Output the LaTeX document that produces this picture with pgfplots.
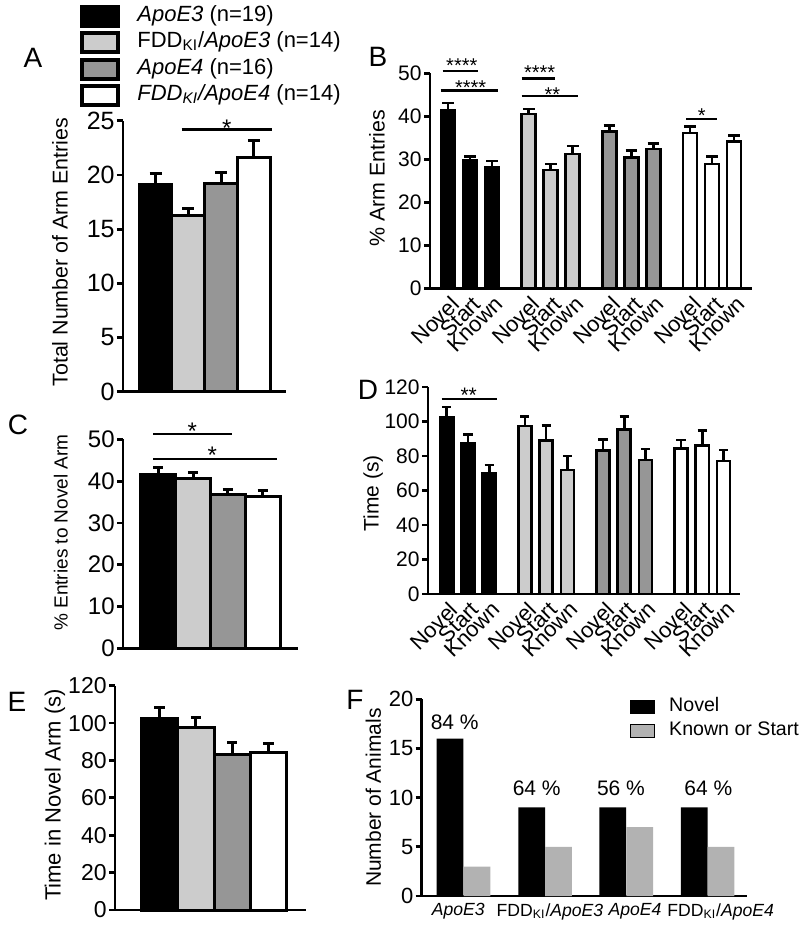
\documentclass[border=0pt]{standalone}
\usepackage{fontspec}
\setmainfont{Liberation Sans}
\usepackage{pgfplots}
\pgfplotsset{compat=1.18}
\definecolor{lg}{HTML}{CCCCCC}
\definecolor{dg}{HTML}{969696}
\definecolor{fg}{HTML}{B2B2B2}
\newcommand{\fs}[1]{\fontsize{#1}{#1}\selectfont}
\newcommand{\KI}{\textsubscript{KI}}
\pgfplotsset{
  /pgf/number format/assume math mode=true,
  panel/.style={
    scale only axis, clip=false, anchor=south west,
    axis x line*=bottom, axis y line*=left,
    axis line style={line width=1.4pt, -, black},
    xmin=0, ymin=0,
    tick align=outside, major tick length=3pt,
    tick style={line width=1.4pt, black},
    xtick=\empty,
    yticklabel style={inner sep=1pt},
    ylabel style={font=\fs{10.7}},
  },
  bb/.style n args={3}{ybar, bar width=#1, bar shift=0pt, draw=black, line width=#2,
    error bars/y dir=plus, error bars/y explicit,
    error bars/error bar style={line width=#2, black, solid},
    error bars/error mark options={rotate=90, mark size=#3, line width=#2, black, solid}},
  lgbox/.style={legend image code/.code={\draw[##1] (0pt,-4.75pt) rectangle (18pt,4.75pt);}},
  lfbox/.style={legend image code/.code={\fill[##1] (0pt,-3.3pt) rectangle (12.35pt,3.3pt);}},
}
\begin{document}
\begin{tikzpicture}
\useasboundingbox (0pt,0pt) rectangle (400pt,-463.5pt);
% panel letters
\node[font=\fs{14}] at (16.5pt,-29pt) {A};
\node[font=\fs{14}] at (189pt,-28.5pt) {B};
\node[font=\fs{14}] at (9pt,-212.5pt) {C};
\node[font=\fs{14}] at (184pt,-195pt) {D};
\node[font=\fs{14}] at (8.5pt,-351pt) {E};
\node[font=\fs{14}] at (177.5pt,-350pt) {F};

% ---------------- A
\begin{axis}[panel, at={(61.5pt,-195.85pt)}, width=81.5pt, height=135.5pt,
  xmax=163, ymax=25, ytick={0,5,...,25},
  yticklabel style={font=\fs{12.5}},
  ylabel={Total Number of Arm Entries},
  ylabel style={at={(axis description cs:-0.3865,0.515)}, anchor=center},
  legend style={at={(axis description cs:-0.2638,1.4316)}, anchor=north west, draw=none, fill=none,
    inner sep=0pt, row sep=1.25pt, font=\fs{11},
    nodes={inner sep=0.5pt, text height=8pt, text depth=3pt},
    /tikz/every odd column/.append style={column sep=8pt}},
  legend cell align=left,
]
\addplot[bb={32.75}{1.5pt}{3pt}, fill=black, forget plot] coordinates {(32.6,19.1) +- (0,1.0)};
\addplot[bb={32.75}{1.5pt}{3pt}, fill=lg, forget plot] coordinates {(65.35,16.3) +- (0,0.6)};
\addplot[bb={32.75}{1.5pt}{3pt}, fill=dg, forget plot] coordinates {(98.1,19.2) +- (0,1.05)};
\addplot[bb={32.75}{1.5pt}{3pt}, fill=white, forget plot] coordinates {(130.85,21.6) +- (0,1.6)};
\addlegendimage{lgbox, fill=black, draw=black, line width=2pt}
\addlegendentry{\textit{ApoE3} (n=19)}
\addlegendimage{lgbox, fill=lg, draw=black, line width=2pt}
\addlegendentry{FDD\KI/\textit{ApoE3} (n=14)}
\addlegendimage{lgbox, fill=dg, draw=black, line width=2pt}
\addlegendentry{\textit{ApoE4} (n=16)}
\addlegendimage{lgbox, fill=white, draw=black, line width=2pt}
\addlegendentry{\textit{FDD\KI/ApoE4} (n=14)}
\draw[line width=1.2pt] (axis cs:58.7,24.2) -- (axis cs:148.7,24.2);
\node[font=\fs{12}, anchor=base, inner sep=0pt] at (axis cs:103.7,23.5) {*};
\end{axis}

% ---------------- B
\begin{axis}[panel, at={(215pt,-144.15pt)}, width=160.85pt, height=107.5pt,
  xmax=321.7, ymax=50, ytick={0,10,...,50},
  yticklabel style={font=\fs{10.5}},
  xtick={18,40,62,98.7,120.7,142.7,179.4,201.4,223.4,260.1,282.1,304.1},
  xticklabels={Novel,Start,Known,Novel,Start,Known,Novel,Start,Known,Novel,Start,Known},
  xticklabel style={font=\fs{11}, rotate=45, anchor=north east, inner sep=0.5pt, xshift=1pt},
  x tick style={draw=none},
  ylabel={\% Arm Entries},
  ylabel style={at={(axis description cs:-0.1648,0.511)}, anchor=center},
]
\addplot[bb={14.1}{1.3pt}{2.9pt}, fill=black, forget plot] coordinates {(18,41.3) +- (0,1.8) (40,29.8) +- (0,0.9) (62,28.2) +- (0,1.4)};
\addplot[bb={14.1}{1.3pt}{2.9pt}, fill=lg, forget plot] coordinates {(98.7,40.5) +- (0,1.2) (120.7,27.5) +- (0,1.4) (142.7,31.2) +- (0,1.9)};
\addplot[bb={14.1}{1.3pt}{2.9pt}, fill=dg, forget plot] coordinates {(179.4,36.5) +- (0,1.4) (201.4,30.4) +- (0,1.7) (223.4,32.4) +- (0,1.3)};
\addplot[bb={14.1}{1.3pt}{2.9pt}, fill=white, forget plot] coordinates {(260.1,36.1) +- (0,1.5) (282.1,28.9) +- (0,1.7) (304.1,34.1) +- (0,1.5)};
\draw[line width=1.1pt] (axis cs:12.7,50.5) -- (axis cs:48.3,50.5);
\node[font=\fs{10}, anchor=base, inner sep=0pt] at (axis cs:31.8,50.1) {****};
\draw[line width=1.1pt] (axis cs:10.7,46.0) -- (axis cs:68.3,46.0);
\node[font=\fs{10}, anchor=base, inner sep=0pt] at (axis cs:40.7,45.0) {****};
\draw[line width=1.1pt] (axis cs:91.7,48.8) -- (axis cs:125,48.8);
\node[font=\fs{10}, anchor=base, inner sep=0pt] at (axis cs:109.7,48.5) {****};
\draw[line width=1.1pt] (axis cs:91.7,44.8) -- (axis cs:148.3,44.8);
\node[font=\fs{10}, anchor=base, inner sep=0pt] at (axis cs:122.3,43.5) {**};
\draw[line width=1.1pt] (axis cs:256,39.3) -- (axis cs:287.3,39.3);
\node[font=\fs{10}, anchor=base, inner sep=0pt] at (axis cs:271.7,38.5) {*};
\end{axis}

% ---------------- C
\begin{axis}[panel, at={(61.5pt,-324.15pt)}, width=87.5pt, height=104.5pt,
  xmax=175, ymax=50, ytick={0,10,...,50},
  yticklabel style={font=\fs{12}},
  ylabel={\% Entries to Novel Arm},
  ylabel style={font=\fs{9.5}, at={(axis description cs:-0.355,0.554)}, anchor=center},
]
\addplot[bb={34.85}{1.5pt}{2.6pt}, fill=black, forget plot] coordinates {(35.2,41.5) +- (0,1.7)};
\addplot[bb={34.85}{1.5pt}{2.6pt}, fill=lg, forget plot] coordinates {(70.05,40.7) +- (0,1.3)};
\addplot[bb={34.85}{1.5pt}{2.6pt}, fill=dg, forget plot] coordinates {(104.9,36.7) +- (0,1.4)};
\addplot[bb={34.85}{1.5pt}{2.6pt}, fill=white, forget plot] coordinates {(139.75,36.3) +- (0,1.5)};
\draw[line width=1.1pt] (axis cs:30.3,51.3) -- (axis cs:108.7,51.3);
\node[font=\fs{12}, anchor=base, inner sep=0pt] at (axis cs:69.3,49.9) {*};
\draw[line width=1.1pt] (axis cs:30.3,45.3) -- (axis cs:153.7,45.3);
\node[font=\fs{12}, anchor=base, inner sep=0pt] at (axis cs:89.3,44.2) {*};
\end{axis}

% ---------------- D
\begin{axis}[panel, at={(214pt,-297pt)}, width=156pt, height=103.5pt,
  xmax=312, ymax=120, ytick={0,20,...,120},
  yticklabel style={font=\fs{10.5}},
  xtick={18.7,40,61.3,96.8,118.1,139.4,174.9,196.2,217.5,253,274.3,295.6},
  xticklabels={Novel,Start,Known,Novel,Start,Known,Novel,Start,Known,Novel,Start,Known},
  xticklabel style={font=\fs{11}, rotate=45, anchor=north east, inner sep=0.5pt, xshift=1pt},
  x tick style={draw=none},
  ylabel={Time (s)},
  ylabel style={font=\fs{10.5}, at={(axis description cs:-0.1753,0.486)}, anchor=center},
]
\addplot[bb={13.1}{1.3pt}{2.3pt}, fill=black, forget plot] coordinates {(18.7,102.6) +- (0,5.8) (40,87.2) +- (0,5.4) (61.3,70.2) +- (0,4.7)};
\addplot[bb={13.1}{1.3pt}{2.3pt}, fill=lg, forget plot] coordinates {(96.8,97.4) +- (0,5.6) (118.1,89.1) +- (0,8.7) (139.4,71.8) +- (0,8.3)};
\addplot[bb={13.1}{1.3pt}{2.3pt}, fill=dg, forget plot] coordinates {(174.9,83.3) +- (0,6.2) (196.2,95.3) +- (0,7.5) (217.5,77.6) +- (0,6.5)};
\addplot[bb={13.1}{1.3pt}{2.3pt}, fill=white, forget plot] coordinates {(253,84.5) +- (0,4.8) (274.3,86.2) +- (0,8.5) (295.6,77.2) +- (0,6.2)};
\draw[line width=1.1pt] (axis cs:13.7,112.9) -- (axis cs:68.7,112.9);
\node[font=\fs{10.5}, anchor=base, inner sep=0pt] at (axis cs:40.7,111.2) {**};
\end{axis}

% ---------------- E
\begin{axis}[panel, at={(57.5pt,-455pt)}, width=95.5pt, height=112.15pt,
  xmax=191, ymax=120, ytick={0,20,...,120},
  yticklabel style={font=\fs{11.5}},
  ylabel={Time in Novel Arm (s)},
  ylabel style={font=\fs{11}, at={(axis description cs:-0.315,0.513)}, anchor=center},
]
\addplot[bb={36.3}{1.5pt}{2.6pt}, fill=black, forget plot] coordinates {(44.65,102.6) +- (0,5.8)};
\addplot[bb={36.3}{1.5pt}{2.6pt}, fill=lg, forget plot] coordinates {(80.95,97.4) +- (0,5.6)};
\addplot[bb={36.3}{1.5pt}{2.6pt}, fill=dg, forget plot] coordinates {(117.25,83.3) +- (0,6.2)};
\addplot[bb={36.3}{1.5pt}{2.6pt}, fill=white, forget plot] coordinates {(153.55,84.5) +- (0,4.8)};
\end{axis}

% ---------------- F
\begin{axis}[panel, at={(210.85pt,-448pt)}, width=162.8pt, height=98.35pt,
  xmax=325.6, ymax=20, ytick={0,5,...,20},
  yticklabel style={font=\fs{11}},
  xtick={36.5,128.3,213.3,299},
  xticklabels={\textit{ApoE3},FDD\KI/\textit{ApoE3},\textit{ApoE4},FDD\KI/\textit{ApoE4}},
  xticklabel style={font=\fs{8.8}, inner sep=0.5pt},
  x tick style={draw=none},
  ylabel={Number of Animals},
  ylabel style={font=\fs{10.5}, at={(axis description cs:-0.1486,0.5)}, anchor=center},
  legend style={at={(axis description cs:0.6376,1.015)}, anchor=north west, draw=none, fill=none,
    inner sep=0pt, row sep=1.5pt, font=\fs{9.8},
    nodes={inner sep=0.5pt, text height=7pt, text depth=2.5pt},
    /tikz/every odd column/.append style={column sep=6.5pt}},
  legend cell align=left,
]
\addplot[ybar, bar width=26.7, bar shift=0pt, fill=black, draw=none, forget plot] coordinates {(28.3,16) (110,9) (191,9) (272.5,9)};
\addplot[ybar, bar width=26.7, bar shift=0pt, fill=fg, draw=none, forget plot] coordinates {(55.3,3) (136.7,5) (218,7) (299.3,5)};
\addlegendimage{lfbox, fill=black}
\addlegendentry{Novel}
\addlegendimage{lfbox, fill=fg}
\addlegendentry{Known or Start}
\node[font=\fs{10.5}, anchor=base, inner sep=0pt] at (axis cs:33,16.9) {84 \%};
\node[font=\fs{10.5}, anchor=base, inner sep=0pt] at (axis cs:115,10.27) {64 \%};
\node[font=\fs{10.5}, anchor=base, inner sep=0pt] at (axis cs:199.3,10.27) {56 \%};
\node[font=\fs{10.5}, anchor=base, inner sep=0pt] at (axis cs:286.6,10.27) {64 \%};
\end{axis}
\end{tikzpicture}
\end{document}
